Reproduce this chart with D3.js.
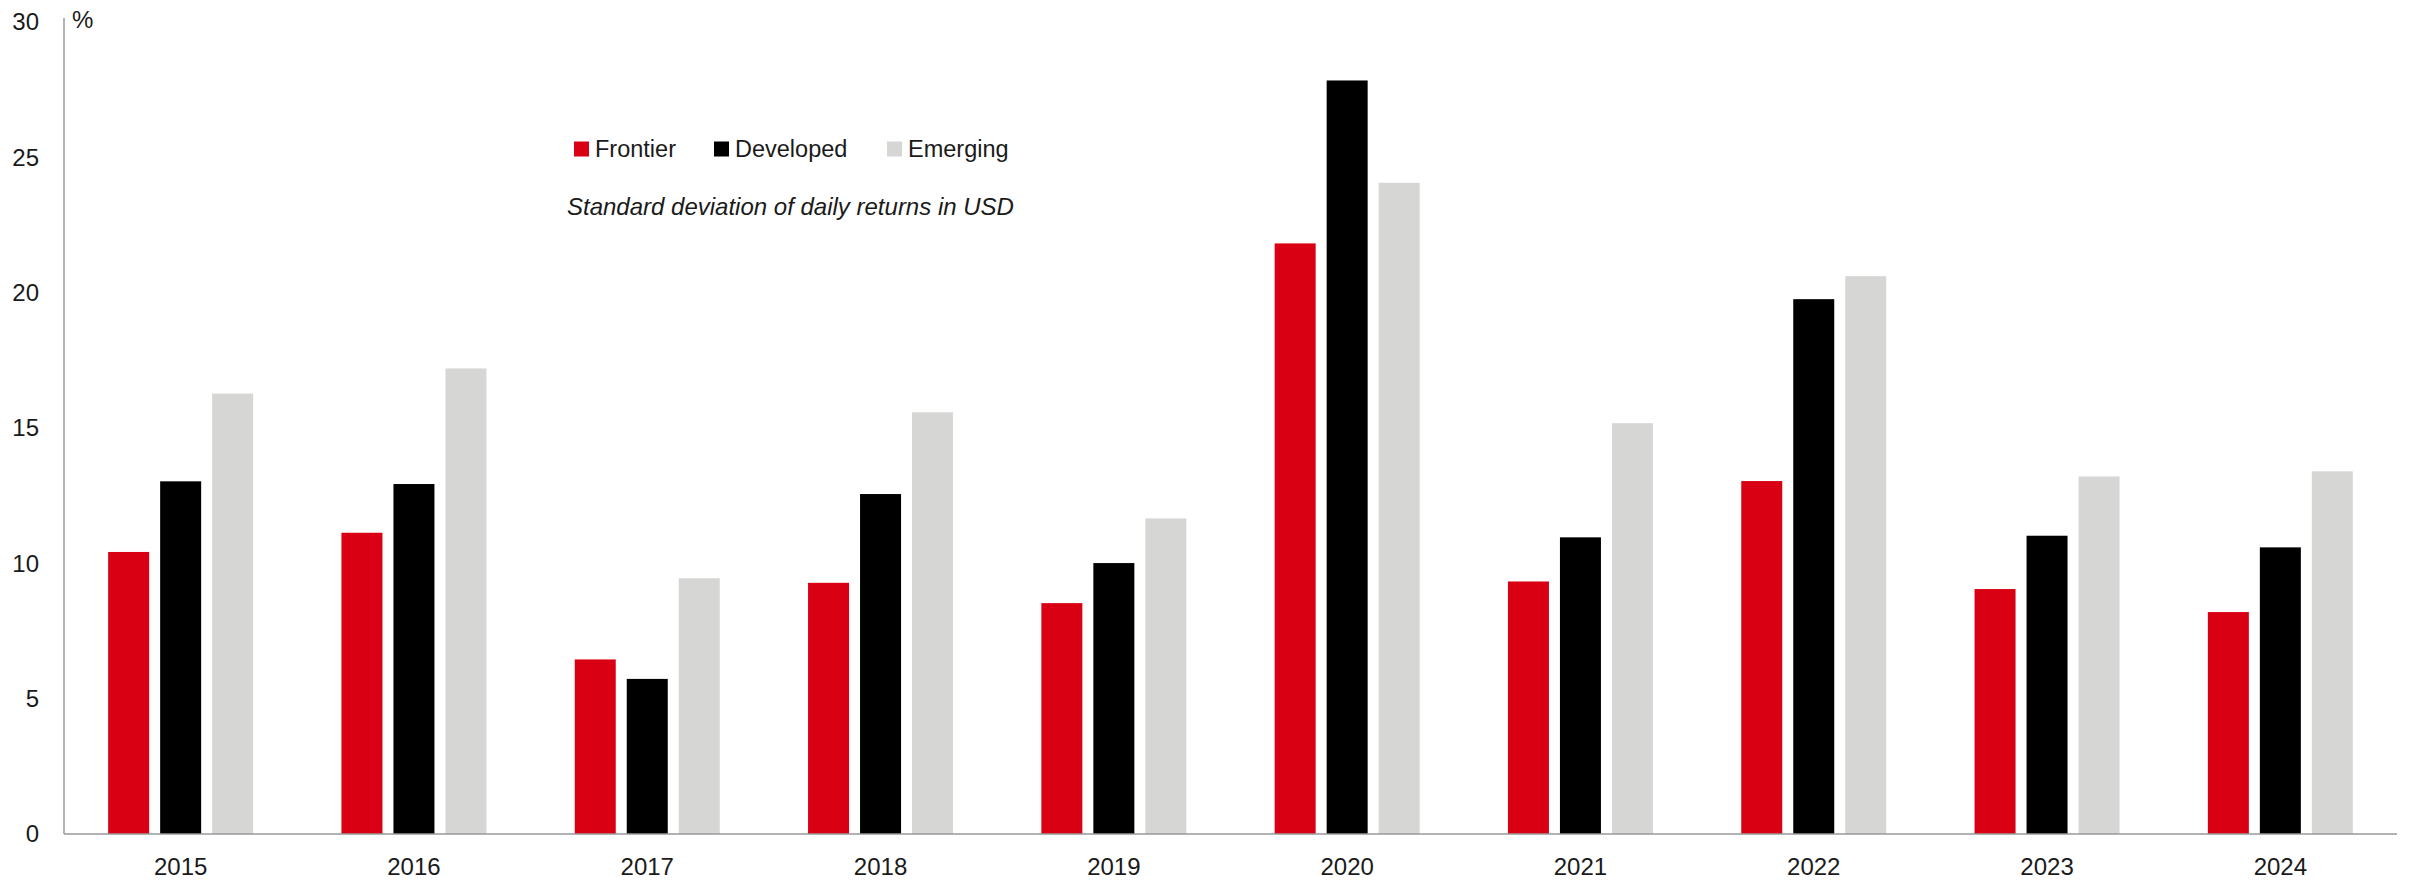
<!DOCTYPE html>
<html>
<head>
<meta charset="utf-8">
<script src="https://cdn.jsdelivr.net/npm/d3@7"></script>
<style>
  html, body { margin: 0; padding: 0; background: #ffffff; }
  svg { display: block; font-family: "Liberation Sans", Arial, sans-serif; }
</style>
</head>
<body>
<svg id="chart" width="2410" height="884"></svg>
<script>
const years = ["2015","2016","2017","2018","2019","2020","2021","2022","2023","2024"];
const seriesNames = ["Frontier","Developed","Emerging"];
const frontier  = [10.42, 11.13, 6.45, 9.28, 8.53, 21.82, 9.33, 13.04, 9.05, 8.20];
const developed = [13.03, 12.93, 5.73, 12.56, 10.01, 27.84, 10.96, 19.76, 11.02, 10.59];
const emerging  = [16.27, 17.20, 9.45, 15.58, 11.66, 24.06, 15.18, 20.61, 13.21, 13.40];
const yTicks = [0, 5, 10, 15, 20, 25, 30];
const colors = ["#da0014", "#000000", "#d6d6d5"];
const subtitle = "Standard deviation of daily returns in USD";
const unitLabel = "%";

const seriesValues = [frontier, developed, emerging];
const svg = d3.select("#chart");
const textColor = "#1a1a1a";

const mLeft = 64, mRight = 2397, mTop = 22, mBottom = 834;

const x0 = d3.scaleBand().domain(years).range([mLeft, mRight]).padding(0);
const x1 = d3.scaleBand().domain(seriesNames).range([-72.5, 72.5]).paddingInner(0.2115).paddingOuter(0);
const y = d3.scaleLinear().domain([0, 30]).range([mBottom, mTop]);

// bars
const groups = svg.append("g").selectAll("g")
  .data(years)
  .join("g")
  .attr("transform", d => `translate(${x0(d) + x0.bandwidth() / 2},0)`);

groups.selectAll("rect")
  .data((d, i) => seriesNames.map((s, j) => ({ s, j, v: seriesValues[j][i] })))
  .join("rect")
  .attr("x", d => x1(d.s))
  .attr("width", x1.bandwidth())
  .attr("y", d => y(d.v))
  .attr("height", d => y(0) - y(d.v))
  .attr("fill", d => colors[d.j]);

// y axis
const yAxis = d3.axisLeft(y).tickValues(yTicks).tickSize(0).tickPadding(25).tickFormat(d3.format("d"));
const gy = svg.append("g").attr("transform", `translate(${mLeft},0)`).call(yAxis);
gy.select(".domain").attr("stroke", "#999").attr("stroke-width", 1.5).attr("d", `M0,18V${mBottom}`);
gy.selectAll("text").attr("font-size", 24).attr("fill", textColor).attr("font-family", "Liberation Sans, Arial, sans-serif");

// x axis
const xAxis = d3.axisBottom(x0).tickSize(0).tickPadding(24);
const gx = svg.append("g").attr("transform", `translate(0,${mBottom})`).call(xAxis);
gx.select(".domain").attr("stroke", "#999").attr("stroke-width", 1.5).attr("d", `M${mLeft},0H${mRight}`);
gx.selectAll("text").attr("font-size", 24).attr("fill", textColor).attr("font-family", "Liberation Sans, Arial, sans-serif");

// unit label
svg.append("text").attr("x", 72).attr("y", 28).attr("font-size", 24).attr("fill", textColor).text(unitLabel);

// legend
const legendX = [574, 714, 887];
const lg = svg.append("g");
seriesNames.forEach((s, j) => {
  lg.append("rect").attr("x", legendX[j]).attr("y", 141.5).attr("width", 15).attr("height", 15).attr("fill", colors[j]);
  lg.append("text").attr("x", legendX[j] + 21).attr("y", 157).attr("font-size", 23.5).attr("fill", textColor).text(s);
});

svg.append("text").attr("x", 567).attr("y", 215).attr("font-size", 24).attr("font-style", "italic")
  .attr("fill", textColor).text(subtitle);
</script>
</body>
</html>
